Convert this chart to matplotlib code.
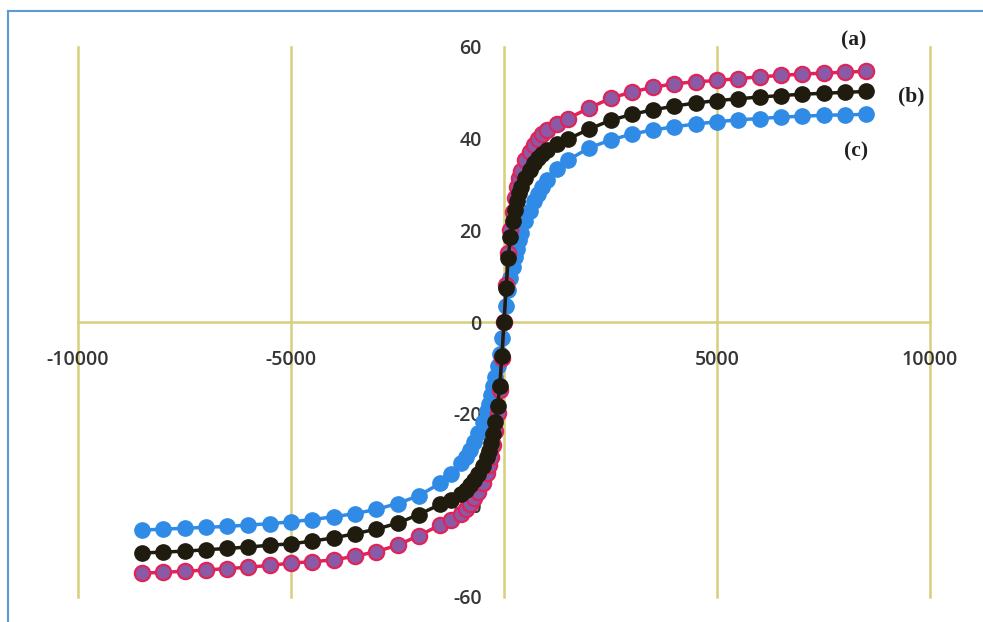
import matplotlib
matplotlib.use("Agg")
import matplotlib.pyplot as plt
from matplotlib.lines import Line2D

plt.rcParams['axes.unicode_minus'] = False

# applied field (Oe)
field = [-8500, -8000, -7500, -7000, -6500, -6000, -5500, -5000, -4500, -4000,
         -3500, -3000, -2500, -2000, -1500, -1250, -1000, -900, -800, -700,
         -600, -500, -400, -350, -300, -250, -200, -150, -100, -50,
         0, 50, 100, 150, 200, 250, 300, 350, 400, 500,
         600, 700, 800, 900, 1000, 1250, 1500, 2000, 2500, 3000,
         3500, 4000, 4500, 5000, 5500, 6000, 6500, 7000, 7500, 8000, 8500]

# magnetisation (emu/g)
mag_a = [-54.8, -54.6, -54.4, -54.1, -53.8, -53.5, -53.1, -52.6, -52.3, -51.9,
         -51.1, -50.1, -48.7, -46.6, -44.3, -43.2, -41.8, -40.9, -39.8, -38.5,
         -37.0, -35.2, -32.9, -31.3, -29.4, -26.9, -23.8, -19.8, -14.8, -7.9,
         0.0, 8.0, 15.0, 20.0, 24.0, 27.0, 29.5, 31.4, 33.0, 35.3,
         37.1, 38.6, 39.9, 41.0, 41.9, 43.3, 44.4, 46.7, 48.8, 50.2,
         51.2, 52.0, 52.4, 52.7, 53.1, 53.5, 53.8, 54.1, 54.3, 54.5, 54.7]
mag_b = [-50.4, -50.2, -50.0, -49.7, -49.4, -49.1, -48.7, -48.4, -47.8, -47.1,
         -46.2, -45.2, -43.9, -42.0, -39.8, -38.8, -37.5, -36.6, -35.6, -34.5,
         -33.1, -31.4, -29.4, -28.1, -26.4, -24.4, -21.9, -18.4, -13.9, -7.4,
         0.0, 7.5, 14.0, 18.5, 22.0, 24.5, 26.5, 28.2, 29.5, 31.5,
         33.2, 34.6, 35.7, 36.7, 37.6, 38.9, 39.9, 42.1, 44.0, 45.3,
         46.3, 47.1, 47.8, 48.3, 48.7, 49.1, 49.4, 49.7, 49.9, 50.1, 50.3]
mag_c = [-45.4, -45.2, -45.0, -44.8, -44.6, -44.3, -44.0, -43.6, -43.1, -42.5,
         -41.8, -40.9, -39.6, -37.9, -35.2, -33.2, -30.8, -29.4, -27.9, -26.2,
         -24.2, -21.9, -19.4, -17.8, -15.9, -14.0, -11.9, -9.5, -6.9, -3.4,
         0.0, 3.5, 7.0, 9.6, 12.0, 14.1, 16.0, 17.9, 19.5, 22.0,
         24.3, 26.3, 28.0, 29.5, 30.9, 33.3, 35.3, 38.0, 39.7, 41.0,
         41.9, 42.6, 43.2, 43.7, 44.1, 44.4, 44.7, 44.9, 45.1, 45.2, 45.3]

x_ticks = [-10000, -5000, 5000, 10000]
y_ticks = [-60, -40, -20, 0, 20, 40, 60]
labels = ['(a)', '(b)', '(c)']
label_pos = [(8215, 61.4), (9550, 49.3), (8260, 37.3)]

grid_col = '#d6d07c'
tick_col = '#363636'

fig = plt.figure(figsize=(9.83, 6.22), dpi=100)
ax = fig.add_axes([78 / 983, 25 / 622, 852 / 983, 550 / 622])
ax.set_xlim(-10000, 10000)
ax.set_ylim(-60, 60)

for x in [-10000, -5000, 0, 5000, 10000]:
    ax.axvline(x, color=grid_col, lw=1.8, zorder=1, clip_on=False)
ax.axhline(0, color=grid_col, lw=1.8, zorder=1, clip_on=False)

ax.plot(field, mag_c, color='#2f8be6', lw=2.5, marker='o', ms=11,
        mfc='#2f8be6', mec='#2f8be6', zorder=3)
ax.plot(field, mag_a, color='#e0245a', lw=2.5, marker='o', ms=11,
        mfc='#8a5aa6', mec='#e0245a', mew=1.6, zorder=4)
ax.plot(field, mag_b, color='#1f1c0f', lw=2.5, marker='o', ms=11,
        mfc='#1f1c0f', mec='#1f1c0f', zorder=5)

for spine in ax.spines.values():
    spine.set_visible(False)
ax.spines['left'].set_position(('data', 0))
ax.spines['bottom'].set_position(('data', 0))

ax.set_xticks(x_ticks)
ax.set_xticklabels([str(v) for v in x_ticks])
ax.set_yticks(y_ticks)
ax.set_yticklabels([str(v) for v in y_ticks])
ax.tick_params(axis='x', length=0, pad=20, labelsize=14, labelcolor=tick_col)
ax.tick_params(axis='y', length=0, pad=16, labelsize=14, labelcolor=tick_col)
for t in ax.get_xticklabels() + ax.get_yticklabels():
    t.set_fontfamily('Open Sans')
    t.set_fontweight('semibold')

for lab, (lx, ly) in zip(labels, label_pos):
    ax.text(lx, ly, lab, ha='center', va='center', fontsize=15.5,
            fontweight='bold', family='Liberation Serif', color='#202020',
            zorder=6)

# thin blue frame on the left and top edges
fig.add_artist(Line2D([8 / 983, 8 / 983], [0, 1 - 11 / 622],
                      transform=fig.transFigure, color='#5b9bd5', lw=1.5))
fig.add_artist(Line2D([8 / 983, 1], [1 - 11 / 622, 1 - 11 / 622],
                      transform=fig.transFigure, color='#5b9bd5', lw=1.5))

fig.savefig('out.png', dpi=100)
